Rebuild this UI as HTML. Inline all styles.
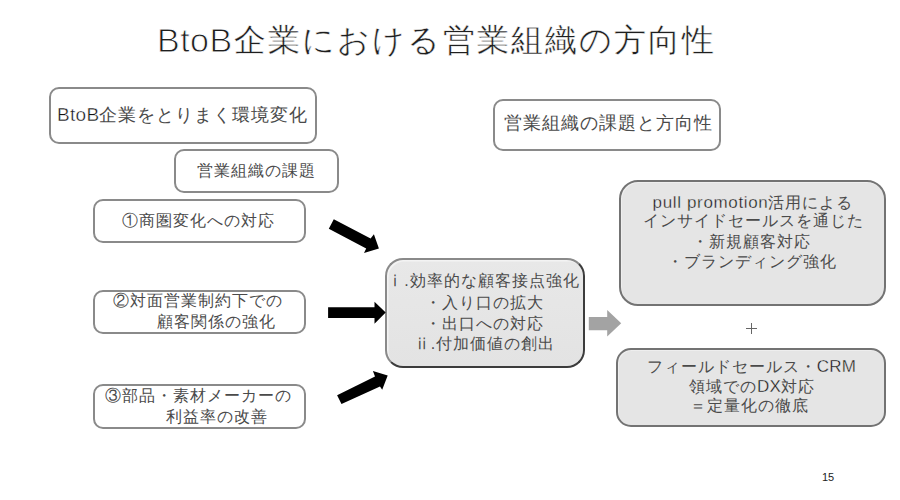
<!DOCTYPE html>
<html lang="ja">
<head>
<meta charset="utf-8">
<style>
html,body{margin:0;padding:0;}
body{width:900px;height:500px;position:relative;overflow:hidden;background:#fff;font-family:"Liberation Sans",sans-serif;color:#333;}
.box{position:absolute;box-sizing:border-box;border:2px solid #8a8a8a;border-radius:10px;background:#fff;}
.gbox{position:absolute;box-sizing:border-box;border:2px solid #737373;background:#e5e5e5;box-shadow:inset 1px 1px 0 #eeeeee;}
.t{position:absolute;white-space:nowrap;line-height:1;color:#4a4a4a;}
.c{text-align:center;width:400px;}
svg{position:absolute;left:0;top:0;}
</style>
</head>
<body>
<!-- title -->
<div class="t" id="title" style="left:157px;top:23px;font-size:34px;color:#1e1e1e;-webkit-text-stroke:0.45px #fff;"><span style="-webkit-text-stroke:0.9px #fff;letter-spacing:0.5px;">BtoB</span><span style="font-size:32px;letter-spacing:2.05px;position:relative;top:-1px;margin-left:1.5px;">企業における営業組織の方向性</span></div>

<!-- box 1 -->
<div class="box" style="left:49px;top:87px;width:268px;height:57px;"></div>
<div class="t" id="b1" style="left:57px;top:105px;font-size:19px;"><span style="-webkit-text-stroke:0.4px #fff;letter-spacing:0.3px;color:#111">BtoB</span><span style="font-size:18px;letter-spacing:1px">企業をとりまく環境変化</span></div>

<!-- box 2 -->
<div class="box" style="left:174px;top:149px;width:165px;height:44px;"></div>
<div class="t" id="b2" style="left:197px;top:163px;font-size:16px;letter-spacing:1px;">営業組織の課題</div>

<!-- box 3 -->
<div class="box" style="left:93px;top:199px;width:213px;height:44px;"></div>
<div class="t" id="b3" style="left:122px;top:213px;font-size:16px;letter-spacing:1px;">①商圏変化への対応</div>

<!-- box 4 -->
<div class="box" style="left:93px;top:290px;width:213px;height:44px;"></div>
<div class="t" id="b4a" style="left:113px;top:293px;font-size:16px;letter-spacing:1px;">②対面営業制約下での</div>
<div class="t" id="b4b" style="left:156.5px;top:314px;font-size:16px;letter-spacing:1px;">顧客関係の強化</div>

<!-- box 5 -->
<div class="box" style="left:93px;top:384px;width:213px;height:45px;"></div>
<div class="t" id="b5a" style="left:105px;top:388px;font-size:16px;letter-spacing:1px;">③部品・素材メーカーの</div>
<div class="t" id="b5b" style="left:166px;top:409px;font-size:16px;letter-spacing:1px;">利益率の改善</div>

<!-- right heading box -->
<div class="box" style="left:493px;top:99px;width:228px;height:52px;"></div>
<div class="t" id="rh" style="left:503.5px;top:114px;font-size:18px;letter-spacing:1px;">営業組織の課題と方向性</div>

<!-- middle box -->
<div class="gbox" style="left:385px;top:258px;width:200px;height:110px;border-radius:18px;background:linear-gradient(#e8e8e8,#e3e3e3);border:2px solid #8a8a8a;border-right:2px solid #3c3c3c;border-bottom:2px solid #3c3c3c;box-shadow:inset 1.5px 1.5px 0 #f3f3f3;"></div>
<div class="t c g" id="m1" style="left:283.5px;top:273px;font-size:16px;letter-spacing:1px;">ⅰ.効率的な顧客接点強化</div>
<div class="t c g" id="m2" style="left:284px;top:295px;font-size:16px;letter-spacing:1px;">・入り口の拡大</div>
<div class="t c g" id="m3" style="left:284px;top:315.5px;font-size:16px;letter-spacing:1px;">・出口への対応</div>
<div class="t c g" id="m4" style="left:284.5px;top:336px;font-size:16px;letter-spacing:1px;">ⅱ.付加価値の創出</div>

<!-- right gray box 1 -->
<div class="gbox" style="left:619px;top:180px;width:267px;height:126px;border-radius:19px;"></div>
<div class="t c g" id="g1" style="left:553px;top:194px;font-size:16px;letter-spacing:1px;"><span style="font-size:17px;letter-spacing:0.65px;-webkit-text-stroke:0.35px #e5e5e5;color:#111">pull promotion</span>活用による</div>
<div class="t c g" id="g2" style="left:553px;top:213px;font-size:16px;letter-spacing:1px;">インサイドセールスを通じた</div>
<div class="t c g" id="g3" style="left:551px;top:234px;font-size:16px;letter-spacing:1px;">・新規顧客対応</div>
<div class="t c g" id="g4" style="left:551.5px;top:253.5px;font-size:16px;letter-spacing:1px;">・ブランディング強化</div>

<!-- plus -->
<div class="t" id="plus" style="left:746px;top:323px;width:12px;height:11px;"><div style="position:absolute;left:0;top:5px;width:11px;height:1px;background:#666"></div><div style="position:absolute;left:5px;top:0;width:1px;height:11px;background:#666"></div></div>

<!-- right gray box 2 -->
<div class="gbox" style="left:616px;top:348px;width:270px;height:79px;border-radius:15px;"></div>
<div class="t c g" id="h1" style="left:551.5px;top:357.5px;font-size:16px;letter-spacing:1px;">フィールドセールス・<span style="font-size:17px;-webkit-text-stroke:0.35px #e5e5e5;color:#111;letter-spacing:0.3px">CRM</span></div>
<div class="t c g" id="h2" style="left:552px;top:377.5px;font-size:16px;letter-spacing:1px;">領域での<span style="font-size:17px;-webkit-text-stroke:0.35px #e5e5e5;color:#111;letter-spacing:0.3px">DX</span>対応</div>
<div class="t c g" id="h3" style="left:549.5px;top:398px;font-size:16px;letter-spacing:1px;">＝定量化の徹底</div>

<!-- page number -->
<div class="t" id="pn" style="left:822px;top:472px;font-size:11px;color:#222;">15</div>

<!-- arrows -->
<svg width="900" height="500" viewBox="0 0 900 500">
  <polygon fill="#000" points="333.8,219.3 370.6,238.5 373.9,234.2 378.9,248.5 364,252.9 366.2,248.5 328.8,228.7"/>
  <polygon fill="#000" points="328.1,307.3 374.5,307.3 374.5,301.7 385.7,312.5 374.5,323.8 374.5,318.1 328.1,318.1"/>
  <polygon fill="#000" points="337.1,395.2 375,376.5 372.9,371 387.7,375.4 382.2,389.7 380,386.4 341.5,404"/>
  <polygon fill="#a3a3a3" points="588.8,317 607.2,317 607.2,310 621.2,323.3 607.2,336.5 607.2,330.2 588.8,330.2"/>
</svg>
</body>
</html>
